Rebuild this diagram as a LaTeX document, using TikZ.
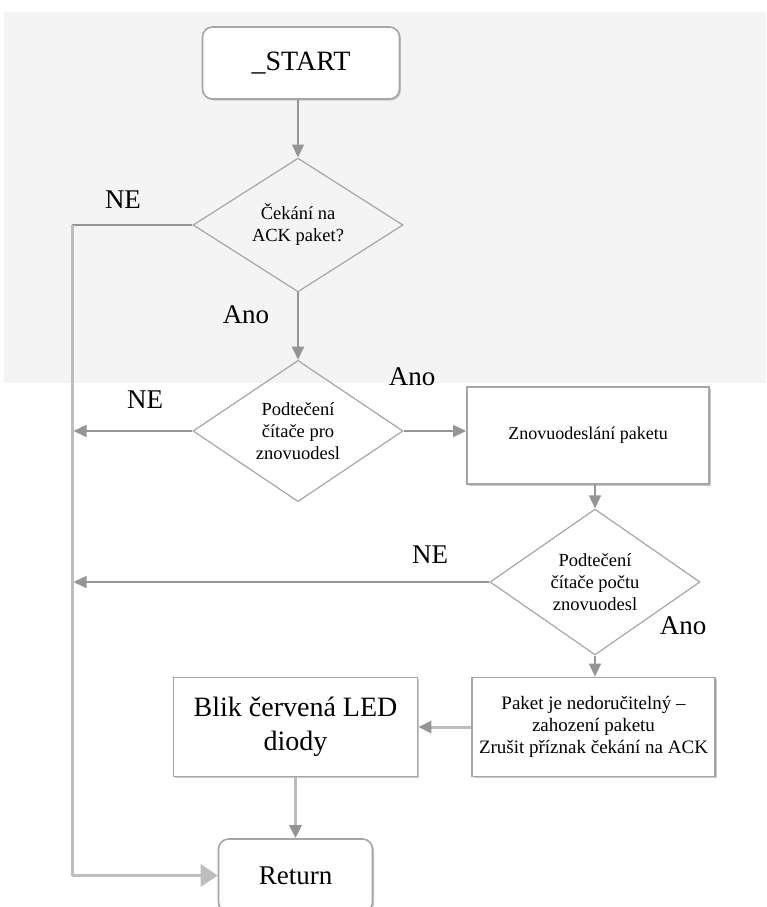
\documentclass[tikz,border=0pt]{standalone}
\usepackage{fontspec}
\setmainfont{Liberation Serif}
\usetikzlibrary{shapes.geometric,arrows.meta,shadows}

\definecolor{bandgray}{HTML}{F4F4F4}
\definecolor{linegray}{HTML}{959595}
\definecolor{lightline}{HTML}{BDBDBD}
\definecolor{boxgray}{HTML}{A6A6A6}
\definecolor{shadegray}{HTML}{C8C8C8}

\tikzset{
    termbox/.style={draw=boxgray, line width=1.6pt, fill=white, rounded corners=10pt,
        minimum width=197pt, minimum height=72pt, inner sep=0pt,
        drop shadow={shadow xshift=1.5pt, shadow yshift=-1.5pt, fill=shadegray, opacity=1},
        font=\fontsize{28}{30}\selectfont},
    actbox/.style={draw=boxgray, line width=1.8pt, fill=white, inner sep=0pt, align=center,
        drop shadow={shadow xshift=1.5pt, shadow yshift=-1.5pt, fill=shadegray, opacity=1}},
    decision/.style={diamond, draw=boxgray, line width=1.2pt, minimum width=210pt,
        minimum height=128pt, inner sep=0pt, align=center,
        font=\fontsize{18.5}{22}\selectfont},
    flow/.style={draw=linegray, line width=1.6pt, -{Triangle[length=13pt,width=12pt]}},
    flowlight/.style={draw=lightline, line width=3pt,
        -{Triangle[length=13pt,width=12pt,color=linegray]}},
    rail/.style={draw=lightline, line width=3pt},
    answer/.style={font=\fontsize{27}{29}\selectfont}
}

\begin{document}
\begin{tikzpicture}[x=1pt,y=-1pt]
    \useasboundingbox (0,0) rectangle (766,907);
    \fill[bandgray] (4,12) rectangle (766,383);

    % nodes
    \node[termbox] (start) at (301,63) {\_START};
    \node[decision] (ack) at (298,225) {Čekání na\\ACK paket?};
    \node[decision] (resend) at (298,431) {Podtečení\\čítače pro\\znovuodesl};
    \node[actbox, minimum width=242pt, minimum height=97pt,
        font=\fontsize{18}{22}\selectfont] (again) at (588,435.5) {Znovuodeslání paketu};
    \node[decision] (count) at (595,582) {Podtečení\\čítače počtu\\znovuodesl};
    \node[actbox, minimum width=243pt, minimum height=99pt,
        font=\fontsize{19}{22}\selectfont] (drop) at (593.5,727)
        {Paket je nedoručitelný –\\zahození paketu\\Zrušit příznak čekání na ACK};
    \node[actbox, minimum width=244pt, minimum height=99pt,
        font=\fontsize{28}{34}\selectfont] (led) at (295.5,727) {Blik červená LED\\diody};
    \node[termbox, minimum width=154pt, minimum height=73pt,
        font=\fontsize{27}{29}\selectfont] (ret) at (295.5,875.5) {Return};

    % answers
    \node[answer] (ne1) at (123,200) {NE};
    \node[answer] (ano1) at (246,315) {Ano};
    \node[answer] (ne2) at (145,400) {NE};
    \node[answer] (ano2) at (412,377) {Ano};
    \node[answer] (ne3) at (430,555) {NE};
    \node[answer] (ano3) at (683,626) {Ano};

    % left rail
    \coordinate (railtop) at (72,225);
    \coordinate (railbot) at (72,875.5);

    % connectors
    \draw[flow] (ack.north |- start.south) -- (ack.north);
    \draw[flow] (ack.south) -- (resend.north);
    \draw[flow] (resend.east) -- (resend.east -| again.west);
    \draw[flow] (again.south -| count.north) -- (count.north);
    \draw[flow] (count.south) -- (count.south |- drop.north);
    \draw[flowlight] (drop.west) -- (led.east);
    \draw[flowlight] (led.south) -- (ret.north);
    \draw[draw=linegray, line width=1.6pt] (ack.west) -- (railtop);
    \draw[rail] (railtop) -- (railbot);
    \draw[rail, -{Triangle[length=17pt,width=22pt,color=lightline]}] (railbot) -- (ret.west);
    \draw[flow, shorten >=1.5pt] (resend.west) -- (resend.west -| railtop);
    \draw[flow, shorten >=1.5pt] (count.west) -- (count.west -| railtop);
\end{tikzpicture}
\end{document}
